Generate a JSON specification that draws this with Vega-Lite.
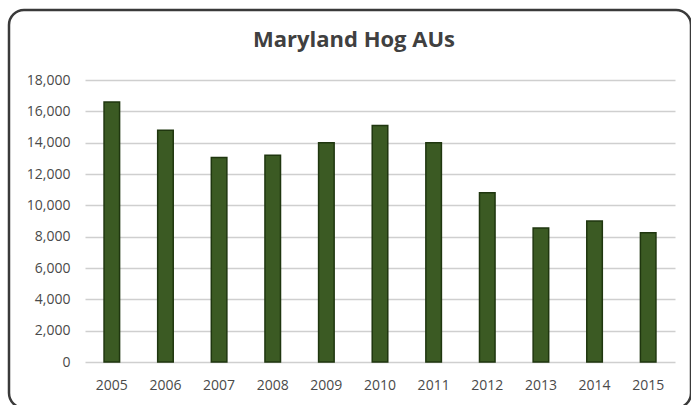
{
  "$schema": "https://vega.github.io/schema/vega-lite/v6.json",
  "autosize": "none",
  "width": 682,
  "height": 398,
  "padding": {"left": 9, "top": 10, "right": 0, "bottom": 0},
  "background": "white",
  "title": {
    "text": "Maryland Hog AUs",
    "frame": "group",
    "anchor": "middle",
    "orient": "top",
    "offset": -59,
    "dx": 4,
    "baseline": "alphabetic",
    "font": "Open Sans",
    "fontSize": 22,
    "fontWeight": "bold",
    "color": "#404040"
  },
  "data": {
    "values": [
      {"year": "2005", "aus": 16600},
      {"year": "2006", "aus": 14800},
      {"year": "2007", "aus": 13050},
      {"year": "2008", "aus": 13200},
      {"year": "2009", "aus": 14000},
      {"year": "2010", "aus": 15100},
      {"year": "2011", "aus": 14000},
      {"year": "2012", "aus": 10800},
      {"year": "2013", "aus": 8550},
      {"year": "2014", "aus": 9000},
      {"year": "2015", "aus": 8250}
    ]
  },
  "mark": {"type": "bar", "fill": "#3b5a23", "stroke": "#1f360f", "strokeWidth": 1.5},
  "encoding": {
    "x": {
      "field": "year",
      "type": "ordinal",
      "title": null,
      "scale": {"range": [76, 666], "paddingInner": 0.71, "paddingOuter": 0.355},
      "axis": {
        "domain": false,
        "ticks": false,
        "labelPadding": 0,
        "offset": -30,
        "labelAngle": 0,
        "labelBaseline": "top",
        "labelFont": "Open Sans",
        "labelFontSize": 14,
        "labelColor": "#4a4a4a"
      }
    },
    "y": {
      "field": "aus",
      "type": "quantitative",
      "title": null,
      "scale": {"domain": [0, 18000], "nice": false, "range": [352, 70]},
      "axis": {
        "values": [0, 2000, 4000, 6000, 8000, 10000, 12000, 14000, 16000, 18000],
        "format": ",d",
        "domain": false,
        "ticks": false,
        "labelPadding": 0,
        "offset": -61,
        "labelFont": "Open Sans",
        "labelFontSize": 14,
        "labelColor": "#4a4a4a",
        "gridColor": "#cfcfcf",
        "gridWidth": 1.5
      }
    }
  },
  "config": {
    "view": {"stroke": "#3a3a3a", "strokeWidth": 2.5, "cornerRadius": 15, "fill": "white"}
  }
}
